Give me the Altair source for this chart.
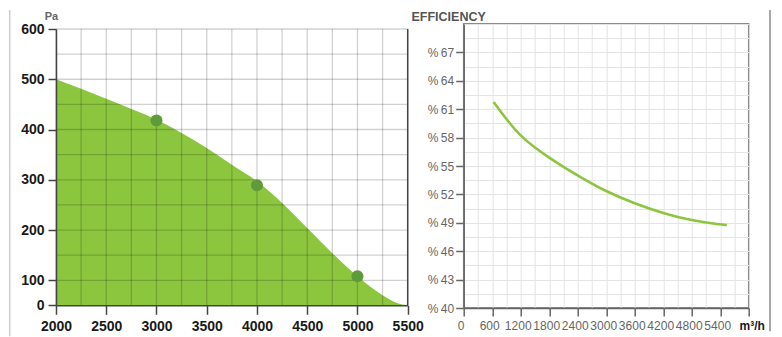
import altair as alt
import pandas as pd

FONT = "Liberation Sans"

# ---------------- left panel: pressure curve ----------------
flow = [2000, 2250, 2500, 2750, 3000, 3250, 3500, 3750, 4000, 4250, 4500, 4750, 5000, 5250, 5400, 5500]
pressure = [500, 481, 461, 441, 420, 393, 363, 330, 297, 254, 204, 154, 108, 40, 8, 0]
point_flow = [3000, 4000, 5000]
point_pressure = [418, 289, 108]
flow_ticks = [2000, 2500, 3000, 3500, 4000, 4500, 5000, 5500]
pa_ticks = [0, 100, 200, 300, 400, 500, 600]
flow_grid = [2000, 2250, 2500, 2750, 3000, 3250, 3500, 3750, 4000, 4250, 4500, 4750, 5000, 5250, 5500]
pa_grid = [100, 150, 200, 250, 300, 350, 400, 450, 500, 550, 600]
frame_flow = [5500]

# ---------------- right panel: efficiency ----------------
eff_flow = [630, 930, 1200, 1500, 1800, 2100, 2400, 3000, 3600, 4200, 4800, 5400, 5540]
eff_value = [61.76, 59.74, 58.15, 56.92, 55.87, 54.90, 54.00, 52.28, 51.03, 50.00, 49.23, 48.80, 48.77]
eff_x_values = [0, 300, 600, 900, 1200, 1500, 1800, 2100, 2400, 2700, 3000, 3300, 3600,
                3900, 4200, 4500, 4800, 5100, 5400, 5700, 6000]
eff_y_values = [40, 41.5, 43, 44.5, 46, 47.5, 49, 50.5, 52, 53.5, 55, 56.5, 58, 59.5,
                61, 62.5, 64, 65.5, 67, 68.5, 70]

GREEN = "#8cc63f"
DOT = "#5f9a3b"
DARK = "#444444"

df_p = pd.DataFrame({"flow": flow, "pa": pressure})
df_pts = pd.DataFrame({"flow": point_flow, "pa": point_pressure})
df_vg = pd.DataFrame({"flow": flow_grid})
df_hg = pd.DataFrame({"pa": pa_grid})
df_fr = pd.DataFrame({"flow": frame_flow})
df_one = pd.DataFrame({"k": [0]})
df_e = pd.DataFrame({"flow": eff_flow, "eff": eff_value})

W1, H1 = 351.7, 281.3
x1_scale = alt.Scale(domain=[2000, 5500], nice=False, zero=False)
y1_scale = alt.Scale(domain=[0, 100, 600], range=[H1, H1 - 25, 5], nice=False, zero=False)

ax_x1 = alt.Axis(values=flow_ticks, format="d", title=None, grid=False, labelFlush=False,
                 labelFont=FONT, labelFontSize=14, labelFontWeight="bold", labelColor="#1a1a1a",
                 labelPadding=5, tickSize=9, tickWidth=1.5, tickColor=DARK,
                 domainColor=DARK, domainWidth=1.5, labelOverlap=False, zindex=1)
ax_y1 = alt.Axis(values=pa_ticks, format="d", grid=False, labelFlush=False,
                 title="Pa", titleAngle=0, titleX=-5, titleY=-4.4, titleAlign="center",
                 titleBaseline="alphabetic", titleFont=FONT, titleFontSize=11,
                 titleFontWeight="bold", titleColor="#666666",
                 labelFont=FONT, labelFontSize=14, labelFontWeight="bold", labelColor="#1a1a1a",
                 labelPadding=4, tickSize=8, tickWidth=1.5, tickColor=DARK,
                 domainColor=DARK, domainWidth=1.5, labelOverlap=False, zindex=1)

area = alt.Chart(df_p).mark_area(color=GREEN, interpolate="monotone", opacity=1).encode(
    x=alt.X("flow:Q", scale=x1_scale, axis=ax_x1),
    y=alt.Y("pa:Q", scale=y1_scale, axis=ax_y1),
    y2=alt.Y2Datum(0),
)
vgrid = alt.Chart(df_vg).mark_rule(color="black", opacity=0.18, strokeWidth=1.3).encode(
    x=alt.X("flow:Q"),
    y=alt.YDatum(0),
    y2=alt.Y2Datum(600),
)
hgrid = alt.Chart(df_hg).mark_rule(color="black", opacity=0.18, strokeWidth=1.3).encode(
    y=alt.Y("pa:Q"),
    x=alt.XDatum(2000),
    x2=alt.X2Datum(5500),
)
frame_r = alt.Chart(df_fr).mark_rule(color=DARK, strokeWidth=1.5).encode(
    x=alt.X("flow:Q"),
    y=alt.YDatum(0),
    y2=alt.Y2Datum(600),
)
dots = alt.Chart(df_pts).mark_circle(size=145, color=DOT, opacity=1).encode(
    x=alt.X("flow:Q"),
    y=alt.Y("pa:Q"),
)
border_l = alt.Chart(df_one).mark_rule(color="#cccccc", strokeWidth=1.5).encode(
    x=alt.value(-46.3), y=alt.value(-14), y2=alt.value(312.3)
)
left = alt.layer(area, vgrid, hgrid, frame_r, dots, border_l).properties(width=W1, height=H1)

# right panel
tick_x_test = "datum.value % 600 === 0"
tick_y_test = "(datum.value - 40) % 3 === 0 && datum.value < 70"
ax_x2 = alt.Axis(values=eff_x_values, format="d", title=None, grid=True, labelFlush=False,
                 gridColor="#e4e4e4", gridWidth=1,
                 labelExpr="datum.value === 6000 ? 'm³/h' : (datum.value % 600 === 0 ? datum.label : '')",
                 labelFont=FONT, labelFontSize=12,
                 labelColor={"condition": {"test": "datum.value === 6000", "value": "#1a1a1a"}, "value": "#666666"},
                 labelFontWeight={"condition": {"test": "datum.value === 6000", "value": "bold"}, "value": "normal"},
                 labelOffset={"condition": {"test": "datum.value === 6000", "value": 3}, "value": -3},
                 tickOpacity={"condition": {"test": tick_x_test, "value": 1}, "value": 0},
                 tickSize=8, tickWidth=1.5, tickColor="#666666",
                 domainColor="#666666", domainWidth=1.5, labelPadding=4, labelOverlap=False)
ax_y2 = alt.Axis(values=eff_y_values, title="EFFICIENCY", grid=True, labelFlush=False,
                 gridColor="#e4e4e4", gridWidth=1,
                 titleAngle=0, titleX=-52.7, titleY=-3.4, titleAlign="left",
                 titleBaseline="alphabetic", titleFont=FONT, titleFontSize=12.5,
                 titleFontWeight="bold", titleColor="#555555",
                 labelExpr="(datum.value - 40) % 3 === 0 && datum.value < 70 ? '%\u2009' + datum.value : ''",
                 labelFont=FONT, labelFontSize=12, labelColor="#666666",
                 tickOpacity={"condition": {"test": tick_y_test, "value": 1}, "value": 0},
                 tickSize=8, tickWidth=1.5, tickColor="#666666",
                 domainColor="#666666", domainWidth=1.5, labelPadding=2, labelOverlap=False)

line = alt.Chart(df_e).mark_line(color=GREEN, strokeWidth=2.6, interpolate="basis").encode(
    x=alt.X("flow:Q", scale=alt.Scale(domain=[0, 6000], nice=False, zero=False), axis=ax_x2),
    y=alt.Y("eff:Q", scale=alt.Scale(domain=[40, 70], nice=False, zero=False), axis=ax_y2),
)
border_r = alt.Chart(df_one).mark_rule(color="#8a8a8a", strokeWidth=1.5).encode(
    x=alt.value(306.3), y=alt.value(-14), y2=alt.value(307.3)
)
right = alt.layer(line, border_r).properties(
    width=285, height=284,
    view=alt.ViewBackground(stroke="#666666", strokeWidth=1.5),
)

chart = alt.hconcat(left, right, spacing=55.7, bounds="flush").properties(
    padding=0
).configure_view(stroke="transparent")

chart.save("out.html", embed_options={"renderer": "svg", "actions": False})
